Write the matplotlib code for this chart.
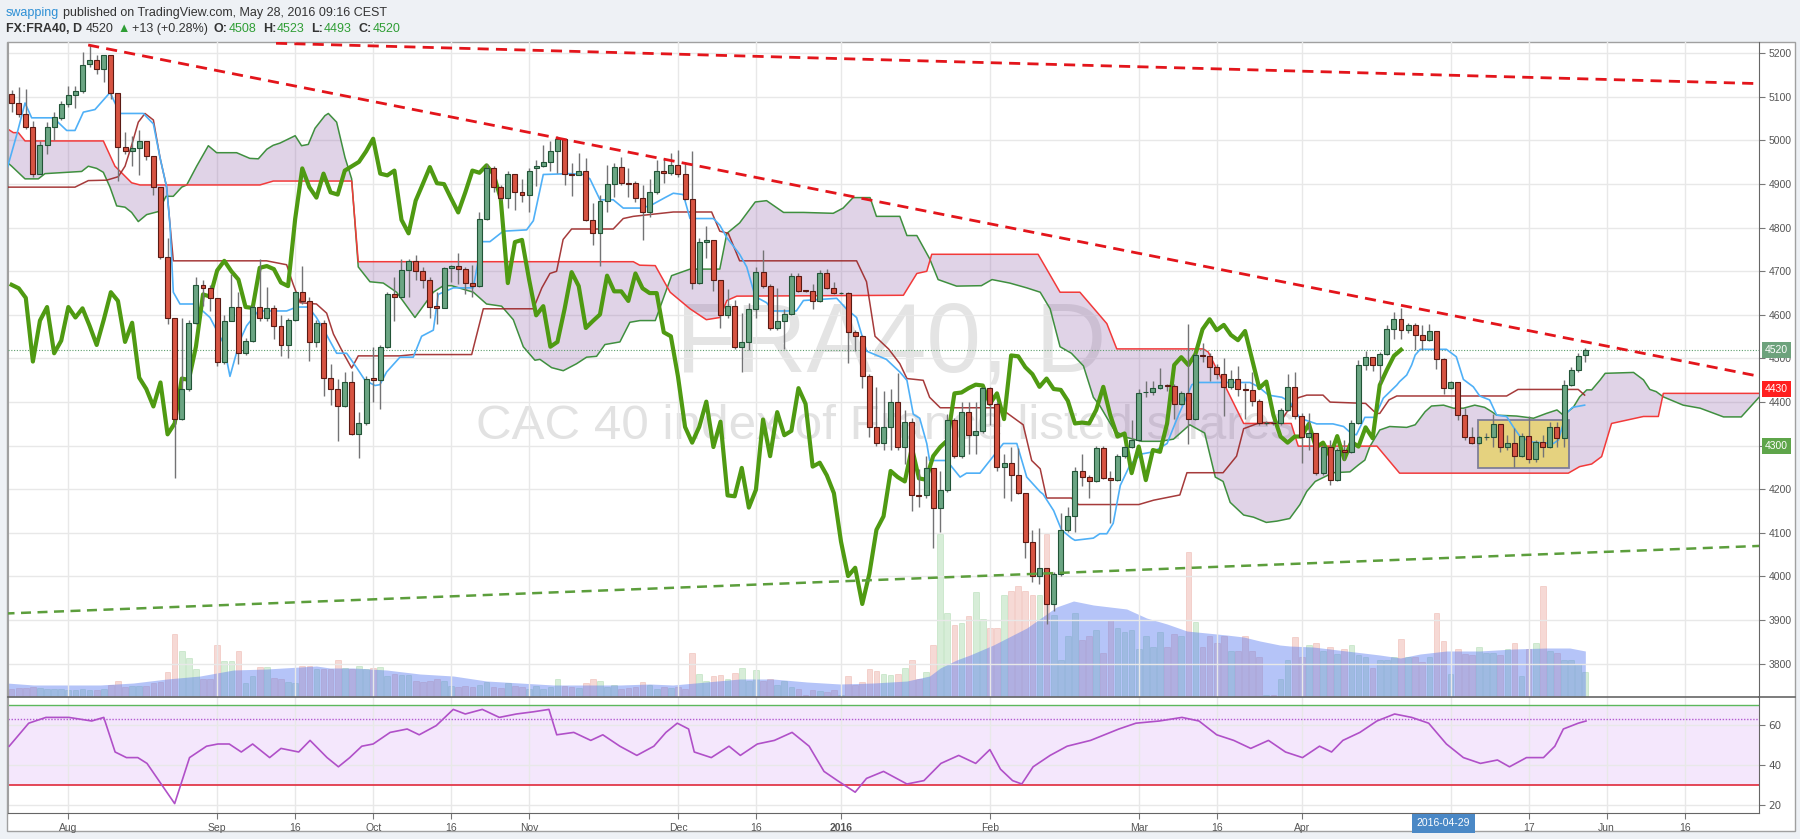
import numpy as np
import pandas as pd
import matplotlib
matplotlib.use("Agg")
import matplotlib.pyplot as plt
from matplotlib.patches import Rectangle
from matplotlib.lines import Line2D
from matplotlib.transforms import blended_transform_factory as btf

# ---------------- data ----------------
start_date = "2015-07-22"

open_ = [5107,5085,5061,5030,4924,4989,5030,5052,5084,5105,5114,5176,5184,5163,5196,5110,4984,4977,4982,4999,
         4965,4893,4732,4592,4362,4430,4581,4669,4661,4639,4493,4587,4618,4512,4541,4618,4594,4615,4575,4531,
         4589,4652,4632,4538,4582,4456,4430,4390,4445,4326,4351,4456,4451,4527,4649,4642,4702,4724,4700,4681,
         4620,4616,4708,4712,4705,4674,4666,4820,4936,4893,4869,4924,4881,4876,4936,4941,4951,4975,5004,4924,
         4920,4931,4818,4787,4862,4900,4939,4902,4902,4867,4835,4881,4931,4926,4943,4922,4866,4673,4767,4772,
         4681,4599,4620,4527,4538,4613,4698,4666,4570,4586,4601,4690,4656,4654,4632,4695,4661,4650,4650,4560,
         4551,4459,4343,4307,4343,4401,4297,4355,4186,4186,4249,4158,4199,4360,4276,4377,4324,4334,4432,4396,
         4252,4261,4232,4191,4080,4001,4020,3937,4006,4107,4138,4242,4228,4218,4295,4225,4222,4276,4297,4312,
         4422,4422,4432,4440,4438,4396,4420,4361,4507,4505,4480,4464,4435,4454,4430,4428,4403,4351,4353,4351,
         4382,4435,4367,4321,4328,4237,4298,4221,4290,4286,4351,4485,4503,4485,4510,4567,4590,4565,4577,4554,
         4542,4563,4498,4432,4447,4370,4321,4307,4321,4321,4350,4296,4307,4276,4322,4269,4309,4298,4342,4317,
         4439,4474,4508]
high = [5116,5122,5119,5045,4999,5042,5066,5090,5126,5124,5203,5218,5196,5196,5196,5110,5020,5010,5023,4999,
        4965,4893,4777,4594,4594,4589,4686,4681,4669,4639,4599,4693,4652,4546,4623,4729,4663,4623,4599,4594,
        4654,4711,4642,4589,4589,4488,4454,4469,4472,4377,4459,4527,4530,4652,4686,4729,4729,4738,4710,4686,
        4652,4710,4715,4743,4710,4714,4835,4946,4941,4898,4929,4924,4912,4936,4955,4989,4999,5011,5004,4949,
        4972,4960,4856,4874,4943,4948,4962,4936,4907,4898,4912,4955,4960,4972,4978,4951,4975,4777,4803,4772,
        4681,4660,4635,4604,4628,4710,4748,4671,4662,4613,4695,4695,4658,4671,4702,4705,4676,4652,4652,4565,
        4555,4464,4435,4425,4430,4466,4382,4363,4247,4276,4249,4242,4372,4363,4401,4401,4401,4435,4435,4401,
        4281,4297,4295,4191,4107,4112,4020,4011,4146,4160,4252,4281,4232,4300,4300,4242,4281,4300,4358,4430,
        4449,4449,4478,4442,4442,4425,4580,4512,4536,4512,4488,4502,4473,4483,4444,4469,4406,4356,4356,4387,
        4464,4468,4374,4375,4330,4302,4313,4294,4313,4359,4497,4518,4504,4516,4577,4607,4615,4582,4581,4577,
        4579,4563,4500,4449,4447,4386,4344,4322,4328,4373,4350,4325,4340,4328,4367,4313,4325,4355,4355,4451,
        4481,4512,4523]
low = [5066,5055,5026,4917,4922,4970,5001,5047,5076,5074,5110,5168,5153,5134,5095,4907,4970,4941,4920,4955,
       4874,4729,4579,4227,4360,4425,4579,4621,4608,4483,4488,4586,4488,4509,4538,4586,4586,4544,4505,4502,
       4586,4625,4494,4526,4413,4393,4310,4389,4324,4271,4348,4401,4384,4525,4586,4640,4642,4681,4661,4594,
       4580,4615,4676,4671,4647,4642,4663,4817,4881,4864,4845,4840,4859,4835,4896,4939,4929,4926,4898,4872,
       4920,4816,4760,4712,4837,4871,4898,4871,4859,4772,4825,4878,4902,4921,4917,4864,4660,4671,4731,4654,
       4570,4594,4522,4469,4519,4594,4661,4565,4565,4522,4599,4652,4652,4613,4630,4659,4647,4647,4490,4517,
       4432,4319,4300,4290,4290,4290,4257,4150,4160,4180,4066,4102,4194,4271,4271,4281,4281,4329,4348,4242,
       4180,4174,4189,4043,3987,3982,3890,3921,4001,4102,4102,4208,4180,4216,4223,4122,4218,4271,4295,4310,
       4411,4416,4430,4425,4362,4393,4305,4358,4493,4449,4454,4367,4430,4415,4362,4391,4348,4348,4348,4348,
       4380,4362,4260,4290,4233,4233,4210,4218,4267,4283,4350,4474,4472,4443,4508,4544,4544,4558,4520,4520,
       4539,4477,4419,4429,4359,4313,4304,4304,4313,4298,4286,4290,4252,4275,4260,4263,4275,4294,4298,4298,
       4437,4470,4493]
close = [5086,5061,5030,4922,4989,5030,5054,5084,5105,5114,5174,5184,5163,5196,5110,4984,4975,4982,4999,4965,
         4893,4732,4594,4362,4430,4581,4669,4661,4639,4493,4587,4618,4512,4541,4618,4594,4615,4575,4531,4589,
         4652,4632,4538,4582,4456,4430,4390,4445,4326,4351,4454,4451,4527,4647,4642,4702,4724,4700,4681,4618,
         4616,4708,4712,4705,4674,4666,4820,4936,4893,4869,4924,4881,4876,4931,4941,4951,4975,5004,4924,4920,
         4931,4818,4787,4862,4900,4939,4902,4900,4867,4835,4881,4931,4926,4943,4922,4866,4673,4767,4772,4681,
         4599,4620,4527,4538,4613,4698,4666,4570,4586,4601,4690,4654,4654,4632,4695,4661,4650,4650,4560,4551,
         4459,4343,4307,4343,4401,4297,4355,4186,4184,4249,4158,4199,4360,4276,4377,4324,4334,4432,4396,4252,
         4261,4232,4191,4080,4001,4020,3937,4006,4107,4138,4242,4228,4218,4295,4225,4222,4276,4297,4312,4420,
         4422,4432,4440,4438,4396,4420,4361,4507,4505,4480,4464,4435,4454,4430,4428,4403,4351,4353,4351,4382,
         4435,4369,4321,4328,4237,4298,4221,4290,4286,4351,4485,4503,4485,4510,4567,4590,4565,4577,4554,4542,
         4563,4498,4432,4447,4370,4321,4307,4321,4321,4350,4296,4307,4276,4322,4269,4309,4298,4342,4317,4439,
         4474,4506,4520]
volume = [8,9,9,10,9,8,8,8,7,7,8,7,7,8,
          12,16,10,11,11,11,14,15,25,63,46,39,28,18,18,52,36,36,46,14,21,30,30,19,18,15,14,31,31,28,28,28,
          37,29,28,31,28,29,30,21,23,22,22,16,15,16,18,16,11,10,11,10,12,15,10,9,14,11,10,8,11,8,10,18,11,10,9,14,18,16,10,12,8,9,10,15,12,
          8,10,9,10,8,44,23,16,21,22,18,24,29,16,27,16,18,12,16,10,8,2,7,6,5,7,2,21,12,15,28,26,23,22,23,29,37,18,25,52,163,84,72,74,81,
          105,78,69,69,102,106,111,106,102,102,163,82,37,61,84,57,61,67,44,77,69,65,67,48,61,50,65,50,63,61,145,75,50,61,54,61,46,46,61,46,40,2,2,18,37,
          60,40,52,54,46,50,43,48,52,42,40,29,37,37,40,58,40,40,35,40,84,56,23,48,43,42,50,44,44,42,48,54,21,48,54,111,46,44,37,37,33,25]

vol_ma_x = [-0.7,3.1,12.5,17.2,21.9,26.6,31.3,36.0,40.7,43.0,44.9,48.2,52.9,57.6,62.3,67.0,71.7,76.4,81.1,85.8,90.0,
            93.3,98.0,102.7,107.4,112.2,116.9,121.6,126.3,129.5,131.0,133.3,135.2,138.5,143.2,147.4,149.8,152.6,157.3,
            160.1,163.0,165.8,168.6,171.4,173.8,176.1,178.9,180.3,183.6,188.3,193.0,195.9,198.7,202.4,207.1,211.8,216.5,219.8,222.0]
vol_ma_y = [14,12,12,14,18,21,27,28,30,31,29,29,27,23,21,16,14,12,12,12,13,
            12,15,18,18,15,13,14,16,21,29,37,42,52,69,90,96,92,88,
            79,73,66,64,62,60,56,52,51,50,46,42,39,43,46,46,48,49,49,46]

tenkan_x = [-0.70,0.72,1.89,2.83,5.89,7.77,8.94,10.12,11.76,13.88,15.29,18.58,20.0,20.93,21.87,22.34,22.81,23.75,25.87,27.98,
            29.86,30.8,32.2,33.15,34.8,38.8,40.2,41.85,43.0,44.2,45.85,47.26,48.67,49.85,51.26,51.96,52.9,54.78,56.66,57.84,
            59.49,60.19,62.3,65.13,66.3,67.48,69.36,72.65,73.6,75.0,78.76,80.64,81.58,83.0,84.87,86.28,88.63,90.05,92.17,93.34,
            94.75,95.7,99.0,99.9,100.9,102.7,103.7,104.9,106.5,107.4,110.7,111.7,116.4,117.8,119.2,120.6,123.4,125.3,126.3,127.2,
            128.1,129.1,129.5,131.9,133.8,134.7,136.6,138.0,138.5,139.9,141.8,143.2,145.1,145.5,147.0,148.1,149.5,150.0,152.6,153.5,
            154.5,155.4,156.4,157.8,159.4,161.1,163.0,164.3,164.8,166.5,167.4,174.7,175.9,177.3,179.2,180.3,181.74,184.1,186.4,187.9,
            189.0,189.7,190.9,192.3,193.5,195.4,195.8,196.8,197.5,198.0,198.7,202.4,203.8,204.8,206.2,207.1,208.5,209.5,210.9,211.8,
            212.8,214.2,215.6,217.5,218.2,219.3,220.2,221.9]
tenkan_y = [4932,5013,5086,5052,5052,5023,5023,5065,5071,5110,5062,5062,5038,4961,4893,4806,4652,4625,4625,4594,
            4536,4459,4541,4575,4609,4609,4618,4618,4594,4561,4512,4512,4479,4450,4438,4440,4469,4503,4503,4551,
            4565,4647,4662,4662,4768,4768,4792,4795,4816,4922,4924,4922,4912,4864,4864,4845,4845,4850,4869,4879,
            4876,4821,4821,4806,4777,4739,4710,4642,4628,4609,4609,4633,4638,4613,4594,4517,4498,4469,4450,4372,
            4363,4305,4266,4266,4228,4237,4237,4266,4276,4305,4305,4228,4194,4189,4151,4107,4088,4083,4088,4098,
            4098,4122,4209,4257,4281,4286,4305,4358,4377,4440,4445,4445,4435,4416,4411,4401,4363,4350,4350,4344,
            4328,4325,4365,4365,4409,4439,4447,4462,4485,4508,4521,4521,4504,4452,4435,4414,4405,4370,4367,4344,
            4321,4309,4307,4305,4313,4374,4388,4393]

kijun_x = [-0.70,8.94,10.82,13.41,15.05,16.0,16.93,17.87,18.81,20.0,20.93,21.87,22.81,35.97,38.8,39.7,40.7,43.0,
           44.44,45.4,46.8,47.97,48.9,54.78,56.66,64.9,66.54,73.6,74.8,75.94,76.88,77.8,79.0,84.87,86.28,87.7,
           93.34,98.75,99.9,101.1,102.7,119.2,120.6,121.8,123.7,125.3,126.3,128.6,129.5,131.0,
           139.4,142.7,143.9,145.1,146.0,149.5,150.5,159.0,161.1,164.8,165.8,170.9,172.8,173.8,176.1,178.93,180.0,181.5,
           182.7,185.0,186.0,191.0,192.5,193.0,194.3,195.4,210.9,212.5,221.0,221.9]
kijun_y = [4893,4893,4908,4909,4917,4941,4989,5042,5062,5047,4961,4893,4724,4724,4715,4671,4628,4625,
           4604,4556,4512,4478,4506,4506,4509,4509,4614,4614,4662,4695,4700,4773,4797,4797,4821,4826,
           4836,4836,4792,4787,4724,4724,4676,4551,4522,4488,4454,4450,4411,4387,
           4387,4348,4266,4247,4180,4180,4165,4165,4175,4187,4238,4238,4276,4339,4353,4353,4380,4410,
           4416,4416,4400,4397,4374,4374,4405,4414,4414,4429,4429,4416]

senkou_a_x = [-0.70,0.01,1.89,3.77,4.71,7.77,9.88,10.82,12.0,12.94,13.88,14.82,16.0,16.93,17.87,19.05,20.7,21.78,22.81,24.0,
              24.7,26.1,27.75,28.92,31.74,33.6,34.8,36.0,36.9,37.85,40.0,40.9,41.85,42.8,44.2,44.68,45.85,47.03,47.97,48.9,
              50.55,52.43,54.31,56.9,59.49,60.9,62.07,65.13,67.0,69.12,70.77,72.18,73.82,74.53,76.18,77.82,79.7,81.11,82.52,83.7,
              85.81,87.22,88.64,90.8,93.1,95.7,99.9,100.9,102.7,104.9,106.5,108.9,111.7,115.9,117.3,118.7,121.1,122.0,125.3,126.3,
              127.7,129.5,130.7,133.3,136.8,138.3,140.8,143.2,145.1,146.5,147.9,149.5,151.2,152.6,153.5,155.6,157.3,159.4,162.0,163.9,
              166.2,168.3,169.8,170.9,171.9,173.8,175.2,177.0,178.5,180.3,181.74,182.7,183.9,186.4,188.8,190.0,190.9,191.6,193.0,194.4,
              196.8,198.0,199.4,200.3,202.0,203.4,204.8,206.4,207.8,208.8,209.5,212.3,214.7,216.5,218.0,218.9,220.3,221.2,222.2,222.9,
              224.1,224.8,228.8,230.2,231.1,232.0,233.0,235.8,238.2,240.0,241.5,244.0,246.5,247.6]
senkou_a_y = [4951,4941,4912,4912,4924,4927,4929,4941,4936,4927,4893,4850,4847,4835,4814,4830,4837,4872,4872,4893,
              4898,4941,4988,4972,4972,4959,4958,4980,4989,4994,5011,4988,4991,5028,5057,5062,5042,4961,4912,4710,
              4676,4673,4652,4594,4652,4667,4667,4652,4625,4620,4589,4527,4496,4498,4479,4472,4488,4503,4505,4532,
              4538,4583,4587,4587,4690,4705,4705,4787,4811,4859,4862,4835,4835,4833,4845,4869,4869,4826,4826,4782,
              4782,4729,4681,4666,4667,4681,4673,4662,4652,4614,4527,4512,4483,4411,4392,4334,4319,4310,4310,4315,
              4348,4329,4228,4218,4170,4141,4136,4124,4127,4133,4165,4195,4218,4238,4240,4256,4267,4298,4336,4344,
              4342,4348,4378,4391,4393,4386,4386,4393,4388,4378,4370,4368,4363,4374,4382,4370,4388,4412,4428,4428,
              4451,4466,4468,4451,4429,4424,4412,4393,4386,4375,4366,4366,4411,4420]

senkou_b_x = [-0.7,0.24,0.95,1.89,12.94,14.58,15.76,16.93,18.11,35.03,36.92,47.97,48.9,87.7,88.6,90.8,92.9,95.7,98.0,99.9,
              100.9,102.3,125.8,127.7,129.1,129.8,144.8,147.9,150.7,154.5,155.9,168.1,168.8,173.8,180.5,181.5,191.9,192.6,195.8,219.6,
              221.2,222.9,224.3,225.7,230.2,232.3,233.0,247.6]
senkou_b_y = [5028,5018,5018,4999,4999,4941,4922,4903,4898,4898,4907,4907,4722,4722,4714,4713,4652,4614,4589,4594,
              4633,4643,4645,4695,4700,4739,4739,4652,4652,4580,4522,4522,4515,4351,4351,4299,4299,4299,4237,4237,
              4252,4258,4275,4351,4367,4367,4420,4420]

rsi_x = [-0.34,2.41,4.84,8.08,11.3,13.0,14.6,16.2,17.8,19.1,23.0,25.1,27.5,29.1,30.7,32.4,34.0,36.4,38.0,40.5,
         42.1,44.5,46.1,47.7,49.4,51.0,53.4,55.8,57.5,59.9,62.3,64.0,66.4,68.8,71.2,73.6,75.8,76.9,79.3,81.7,
         83.4,85.8,88.2,90.6,92.3,93.9,95.5,96.3,98.7,101.2,102.8,105.2,107.6,110.1,112.5,114.6,116.5,119.0,120.6,123.0,
         126.3,128.7,131.1,133.6,136.0,138.0,139.5,141.2,142.5,144.1,146.5,148.9,152.2,156.2,158.6,161.9,165.1,167.5,170.0,172.4,
         174.8,177.3,179.7,182.1,184.5,186.2,187.8,190.2,192.6,195.1,197.5,199.9,202.4,204.8,207.2,209.6,211.3,213.7,216.1,217.7,
         218.9,221.0,222.1]
rsi_y = [49.4,60.9,63.8,63.8,62.0,63.8,46.5,43.7,43.7,40.8,20.7,43.7,49.4,50.5,50.5,46.5,50.5,43.7,48.3,46.5,
         52.3,43.7,39.1,43.7,49.4,50.5,56.3,58.0,55.1,59.7,67.8,65.5,67.8,63.8,65.5,66.6,67.8,55.1,56.3,52.3,
         55.1,49.4,44.8,49.4,56.3,60.9,58.0,46.5,43.7,49.4,44.8,50.5,52.3,56.3,49.4,36.8,32.2,26.4,33.3,36.8,
         30.5,32.2,40.8,44.8,40.8,47.7,37.9,32.2,30.5,39.1,44.8,49.4,52.3,58.0,60.9,62.0,63.8,62.0,55.1,52.3,
         48.3,52.3,46.5,43.7,49.4,46.5,52.3,56.3,62.0,65.5,63.8,60.9,50.5,43.7,40.8,42.5,39.1,43.7,43.7,49.4,
         58.0,60.9,62.0]

trend_red_x, trend_red_y = [10.8, 247.5], [5219, 4456]
trend_red2_x, trend_red2_y = [37.3, 247.5], [5223, 5130]
trend_green_x, trend_green_y = [-1.0, 248.0], [3915, 4071]
box_x, box_y = [206.8, 219.7], [4248, 4360]

tick_dates = ["2015-08-03","2015-09-01","2015-09-16","2015-10-01","2015-10-16","2015-11-02","2015-12-01","2015-12-16",
              "2016-01-01","2016-02-01","2016-03-01","2016-03-16","2016-04-01","2016-05-02","2016-05-17","2016-06-01","2016-06-16"]
tick_labels = ["Aug","Sep","16","Oct","16","Nov","Dec","16","2016","Feb","Mar","16","Apr","","17","Jun","16"]
cross_date = "2016-04-29"
last_price = 4520
axis_marks = [(4520, "4520", "#6da27c"), (4430, "4430", "#ff1f1f"), (4300, "4300", "#5ea54a")]
hidden_price_labels = [4300]
rsi_mark = 63

# ---------------- figure ----------------
W, H = 1800, 839
fig = plt.figure(figsize=(18, 8.39), dpi=100, facecolor="#eef1f5")
def fx(p): return p / W
def fy(p): return 1 - p / H

fig.patches.append(Rectangle((fx(7), fy(831)), fx(1795) - fx(7), fy(42) - fy(831), transform=fig.transFigure,
                             fc="white", ec="#a0a0a0", lw=1, zorder=-5))

ax = fig.add_axes([fx(8), fy(697), fx(1759) - fx(8), fy(42) - fy(697)])
ax2 = fig.add_axes([fx(8), fy(813), fx(1759) - fx(8), fy(697) - fy(813)], sharex=ax)
axv = ax.twinx()
ax.set_zorder(axv.get_zorder() + 1)
ax.patch.set_visible(False)

dates = pd.bdate_range(start_date, periods=260)
n = len(close)
idx = np.arange(n)
o = np.array(open_, float); h = np.array(high, float); l = np.array(low, float); c = np.array(close, float)
tick_pos = [dates.get_loc(pd.Timestamp(d)) for d in tick_dates]

xmin, xmax = -0.51, 246.5
ax.set_xlim(xmin, xmax)
ax.set_ylim(3723.6, 5225.9)

# grid
yt = np.arange(3800, 5201, 100)
ax.set_yticks(yt)
ax.set_yticklabels(["" if v in hidden_price_labels else str(v) for v in yt])
ax.set_xticks(tick_pos)
ax.grid(True, color="#e8e8e8", lw=1)
ax.set_axisbelow(True)

# volume
vcol = np.where(c >= o, "#4caf50", "#d75442")
axv.bar(idx, volume, width=0.8, color=vcol, alpha=0.22, edgecolor=vcol, lw=0.6)
axv.fill_between(vol_ma_x, 0, vol_ma_y, color="#5b7cf0", alpha=0.45, lw=0)
axv.set_ylim(0, 655)
axv.set_yticks([])
for s in axv.spines.values():
    s.set_visible(False)

# watermark
ax.text(fx(891), fy(372), "FRA40, D", transform=fig.transFigure, ha="center", va="baseline",
        fontsize=70.6, color="#e4e4e4", family="Liberation Sans", zorder=0.3)
ax.text(fx(885), fy(439), "CAC 40 index of France listed shares", transform=fig.transFigure, ha="center",
        va="baseline", fontsize=35.6, color="#e2e2e2", family="Liberation Sans", zorder=0.3)

# cloud
px = np.concatenate([senkou_a_x, senkou_b_x[::-1]])
py = np.concatenate([senkou_a_y, senkou_b_y[::-1]])
ax.fill(px, py, color="#8e5ea8", alpha=0.27, lw=0, zorder=1)
ax.plot(senkou_a_x, senkou_a_y, color="#3f8f3f", lw=1.1, zorder=2)
ax.plot(senkou_b_x, senkou_b_y, color="#f23a3a", lw=1.1, zorder=2)

# trend lines / drawings
ax.add_patch(Rectangle((box_x[0], box_y[0]), box_x[1] - box_x[0], box_y[1] - box_y[0],
                       fc="#e6d27a", ec="#7a7a96", lw=1.3, alpha=0.95, zorder=2.5))
ax.axhline(last_price, color="#5e9e6e", lw=0.8, ls=(0, (1, 1.5)), zorder=2.6)
ax.plot(trend_red_x, trend_red_y, color="#e3151b", lw=2.0, ls=(0, (4, 2.6)), zorder=6)
ax.plot(trend_red2_x, trend_red2_y, color="#e3151b", lw=2.0, ls=(0, (4, 2.6)), zorder=6)
ax.plot(trend_green_x, trend_green_y, color="#5c9e3c", lw=1.8, ls=(0, (4, 2.6)), zorder=6)

# ichimoku lines
ax.plot(kijun_x, kijun_y, color="#9c2525", lw=1.1, alpha=0.9, zorder=3)
ax.plot(tenkan_x, tenkan_y, color="#4fb0f7", lw=1.2, zorder=3)
ax.plot(idx[:-26], c[26:], color="#4f9a12", lw=3.0, zorder=3.5, solid_joinstyle="round")

# candles
up = c >= o
bb = np.minimum(o, c); bh = np.abs(c - o)
ax.vlines(idx, l, h, color="#737375", lw=1.0, zorder=4)
ax.bar(idx[up], bh[up], bottom=bb[up], width=0.7, color="#6ba583", edgecolor="#225437", lw=0.8, zorder=5)
ax.bar(idx[~up], bh[~up], bottom=bb[~up], width=0.7, color="#d75442", edgecolor="#5b1a13", lw=0.8, zorder=5)

# axes styling
ax.yaxis.tick_right()
ax.tick_params(axis="y", which="both", right=True, left=False, labelright=True, labelleft=False,
               length=4, color="#777", labelsize=7.5, labelcolor="#555", pad=3)
ax.tick_params(axis="x", bottom=False, labelbottom=False)
for t in ax.get_yticklabels():
    t.set_family("Liberation Sans")
for k, s in ax.spines.items():
    s.set_color("#666" if k in ("right", "bottom") else "#a0a0a0")
ax.spines["top"].set_visible(False)
ax.spines["bottom"].set_linewidth(1.2)

tr = btf(ax.transAxes, ax.transData)
for val, txt, col in axis_marks:
    ax.text(1.0032, val, txt, transform=tr, ha="left", va="center", fontsize=7.5, color="white",
            family="Liberation Sans", bbox=dict(boxstyle="square,pad=0.28", fc=col, ec="none"),
            zorder=20, clip_on=False)

# RSI panel
ax2.set_ylim(16, 74)
ax2.axhspan(30, 70, color="#f4e7fc", lw=0, zorder=0.5)
ax2.set_yticks([20, 40, 60])
ax2.grid(True, color="#e8e8e8", lw=1)
ax2.set_axisbelow(True)
ax2.axhline(70, color="#5cb85c", lw=1.0, zorder=2)
ax2.axhline(30, color="#e2394a", lw=1.3, zorder=2)
ax2.axhline(rsi_mark, color="#b45ad2", lw=1.0, ls=(0, (1, 1.2)), zorder=2)
ax2.plot(rsi_x, rsi_y, color="#b050c8", lw=1.2, zorder=3)
ax2.yaxis.tick_right()
ax2.tick_params(axis="y", right=True, left=False, labelright=True, labelleft=False, length=4, color="#777",
                labelsize=7.5, labelcolor="#555", pad=3)
ax2.set_xticks(tick_pos)
ax2.set_xticklabels(tick_labels)
ax2.tick_params(axis="x", length=4, color="#777", labelsize=7.5, labelcolor="#555", pad=3)
for i, t in enumerate(ax2.get_xticklabels()):
    t.set_family("Liberation Sans")
    if tick_labels[i] == "2016":
        t.set_fontweight("bold")
for k, s in ax2.spines.items():
    s.set_color("#666" if k in ("right", "bottom") else "#a0a0a0")
ax2.spines["top"].set_visible(False)
ax2.set_xlim(xmin, xmax)

cross_x = dates.get_loc(pd.Timestamp(cross_date))
ax2.text(cross_x, -0.045, cross_date, transform=btf(ax2.transData, ax2.transAxes), ha="center", va="top",
         fontsize=7.5, color="white", family="Liberation Sans",
         bbox=dict(boxstyle="square,pad=0.45", fc="#4a88c6", ec="none"), zorder=20, clip_on=False)

# separator across price scale
fig.lines.append(Line2D([fx(1759), fx(1795)], [fy(697), fy(697)], transform=fig.transFigure, color="#666", lw=1.2))

# header
fam = ["Liberation Sans", "DejaVu Sans"]
r = fig.canvas.get_renderer()
def seq(parts, x, ybase, size=9):
    for s, col, wt, gap in parts:
        t = fig.text(fx(x), fy(ybase), s, color=col, fontweight=wt, fontsize=size, family=fam,
                     ha="left", va="baseline")
        x += t.get_window_extent(r).width + gap

dark = "#333333"; grn = "#2f9e35"
seq([("swapping", "#2d8fd5", "normal", 3.5),
     ("published on TradingView.com, May 28, 2016 09:16 CEST", dark, "normal", 0)], 6, 16)
seq([("FX:FRA40, D", dark, "bold", 3.5), ("4520", dark, "normal", 3.5), ("\u25B2", grn, "normal", 2.5),
     ("+13 (+0.28%)", dark, "normal", 6), ("O:", dark, "bold", 0.5), ("4508", grn, "normal", 7),
     ("H:", dark, "bold", 0.5), ("4523", grn, "normal", 7), ("L:", dark, "bold", 0.5), ("4493", grn, "normal", 7),
     ("C:", dark, "bold", 0.5), ("4520", grn, "normal", 0)], 6, 32)

fig.savefig("out.png", dpi=100, facecolor=fig.get_facecolor())
